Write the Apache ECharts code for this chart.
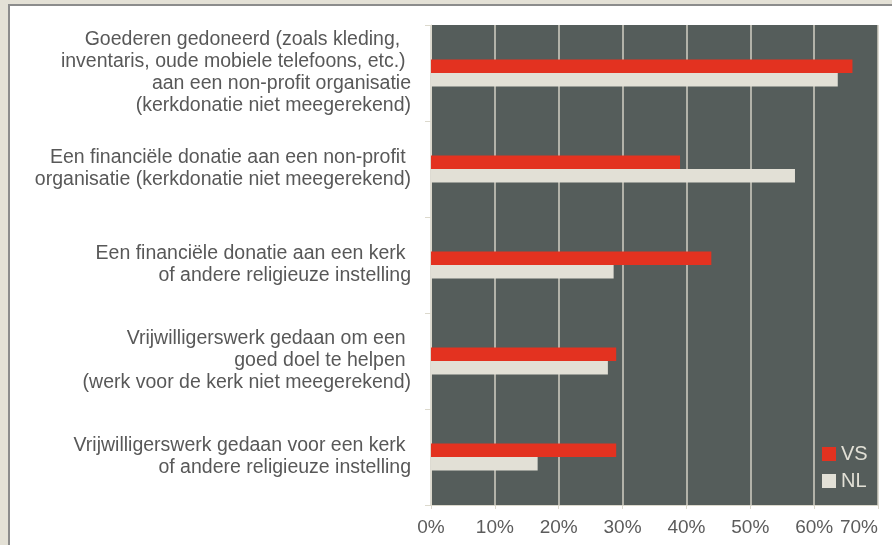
<!DOCTYPE html>
<html>
<head>
<meta charset="utf-8">
<script src="https://cdn.jsdelivr.net/npm/echarts@6/dist/echarts.min.js"></script>
<style>
  html, body { margin: 0; padding: 0; background: #e4e1d6; overflow: hidden; }
  #panel {
    position: absolute; left: 8px; top: 4px; width: 900px; height: 560px;
    background: #ffffff; border: 2px solid #8c8c8c;
  }
  #chart { position: absolute; left: 0; top: 0; width: 892px; height: 545px; }
</style>
</head>
<body>
<div id="panel"></div>
<div id="chart"></div>
<script>
// categorieën (van boven naar beneden)
const categories = [
  'Goederen gedoneerd (zoals kleding,  \ninventaris, oude mobiele telefoons, etc.) \naan een non-profit organisatie\n(kerkdonatie niet meegerekend)',
  'Een financiële donatie aan een non-profit \norganisatie (kerkdonatie niet meegerekend)',
  'Een financiële donatie aan een kerk \nof andere religieuze instelling',
  'Vrijwilligerswerk gedaan om een \ngoed doel te helpen \n(werk voor de kerk niet meegerekend)',
  'Vrijwilligerswerk gedaan voor een kerk \nof andere religieuze instelling'
]
const seriesNames = ['VS', 'NL']
const valuesVS = [66.0, 39.0, 43.9, 29.0, 29.0]
const valuesNL = [63.7, 57.0, 28.6, 27.7, 16.7]
const tickValues = [0, 10, 20, 30, 40, 50, 60, 70]

const chartDom = document.getElementById('chart')
const myChart = echarts.init(chartDom, null, { renderer: 'canvas' })

const lightLine = '#dcd9cd'
const option = {
  animation: false,
  textStyle: { fontFamily: '"Liberation Sans", Arial, sans-serif' },
  grid: {
    left: 431,
    top: 25,
    right: 14,
    bottom: 40,
    containLabel: false,
    outerBoundsMode: 'none',
    show: true,
    backgroundColor: '#555d5b',
    borderWidth: 0
  },
  legend: {
    data: seriesNames,
    orient: 'vertical',
    left: 822,
    top: 443,
    padding: 0,
    itemWidth: 14,
    itemHeight: 14,
    itemGap: 5,
    icon: 'rect',
    textStyle: { color: '#e2e0d6', fontSize: 20, lineHeight: 22 }
  },
  xAxis: {
    type: 'value',
    min: tickValues[0],
    max: tickValues[tickValues.length - 1],
    interval: 10,
    axisLine: { show: true, lineStyle: { color: lightLine, width: 1 } },
    axisTick: { show: true, length: 4, lineStyle: { color: lightLine } },
    axisLabel: {
      formatter: '{value}%',
      color: '#5c5c5c',
      fontSize: 19,
      margin: 13,
      alignMaxLabel: 'right'
    },
    splitLine: { show: true, lineStyle: { color: '#d2cfc3', width: 1.5 } }
  },
  yAxis: {
    type: 'category',
    data: categories,
    inverse: true,
    axisLine: { show: true, lineStyle: { color: lightLine, width: 1 } },
    axisTick: { show: true, length: 6, lineStyle: { color: lightLine } },
    axisLabel: {
      color: '#585858',
      fontSize: 19.5,
      lineHeight: 22,
      align: 'right',
      margin: 20
    }
  },
  series: [
    {
      name: seriesNames[0],
      type: 'bar',
      data: valuesVS,
      barWidth: 13.5,
      barGap: '0%',
      itemStyle: { color: '#e33220' }
    },
    {
      name: seriesNames[1],
      type: 'bar',
      data: valuesNL,
      barWidth: 13.5,
      barGap: '0%',
      itemStyle: { color: '#e2e0d6' }
    }
  ]
}
myChart.setOption(option)
</script>
</body>
</html>
